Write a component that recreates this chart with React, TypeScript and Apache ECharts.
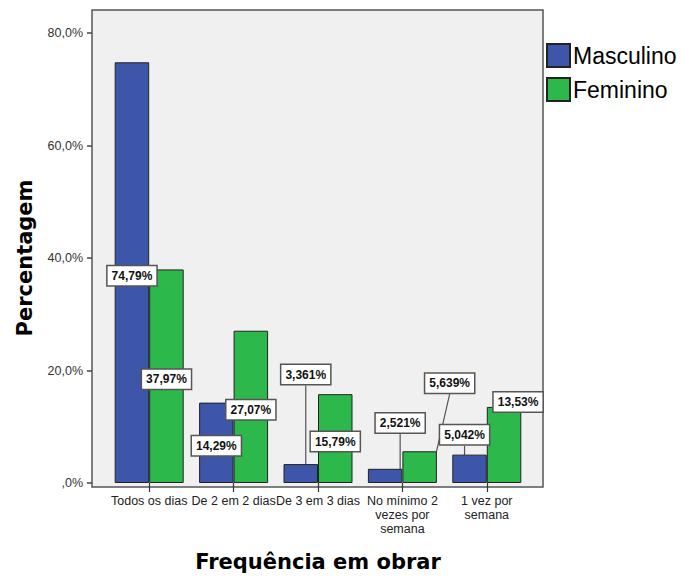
import React, { useEffect, useRef } from "react";
import * as echarts from "echarts";

const categories = [
  "Todos os dias",
  "De 2 em 2 dias",
  "De 3 em 3 dias",
  "No mínimo 2\nvezes por\nsemana",
  "1 vez por\nsemana",
];
const masculino = [74.79, 14.29, 3.361, 2.521, 5.042];
const feminino = [37.97, 27.07, 15.79, 5.639, 13.53];
const seriesNames = ["Masculino", "Feminino"];

// label displacement (px) from the bar centre, like the SPSS callouts
const labelOffsets = [
  [[0, 3], [0, 3], [5, -99], [15, -53], [-5, -34]],
  [[0, 3], [0, 3], [0, 3], [30, -84], [14, -43]],
];

const fmtPct = (v: number) => v.toPrecision(4).replace(".", ",") + "%";
const fmtTick = (v: number) => (v === 0 ? ",0%" : v.toFixed(1).replace(".", ",") + "%");

const FONT = "'Liberation Sans', Arial, sans-serif";

export default function App() {
  const ref = useRef<HTMLDivElement>(null);
  useEffect(() => {
    if (!ref.current) return;
    const chart = echarts.init(ref.current, null, { renderer: "svg" });
    const labelCfg = {
      show: true,
      position: "inside",
      formatter: (p: any) => fmtPct(p.value),
      fontFamily: FONT,
      fontSize: 12,
      fontWeight: "bold",
      color: "#111",
      backgroundColor: "#ffffff",
      borderColor: "#555",
      borderWidth: 1.5,
      padding: [4, 4, 3, 4],
    };
    chart.setOption({
      animation: false,
      textStyle: { fontFamily: FONT },
      graphic: [
        {
          type: "rect",
          z: -10,
          silent: true,
          shape: { x: 92, y: 10, width: 451, height: 477 },
          style: { fill: "#f0f0f0", stroke: "#555", lineWidth: 1.5 },
        },
      ],
      legend: {
        orient: "vertical",
        left: 546,
        top: 43,
        padding: 0,
        itemWidth: 23,
        itemHeight: 23,
        itemGap: 9,
        icon: "rect",
        textStyle: { fontFamily: FONT, fontSize: 23, color: "#000", padding: [0, 0, 0, -2] },
        data: seriesNames,
      },
      grid: { left: 107, right: 154, top: 33, bottom: 90 },
      xAxis: {
        type: "category",
        data: categories,
        name: "Frequência em obrar",
        nameLocation: "middle",
        nameGap: 68,
        nameTextStyle: { fontFamily: "'DejaVu Sans', sans-serif", fontWeight: "bold", fontSize: 21, color: "#000" },
        axisLine: { show: false },
        axisTick: { show: true, alignWithLabel: true, length: 9, lineStyle: { color: "#333", width: 1.2 } },
        axisLabel: { interval: 0, margin: 11, fontSize: 12.5, lineHeight: 14, color: "#222", fontFamily: FONT },
      },
      yAxis: {
        type: "value",
        min: 0,
        max: 80,
        interval: 20,
        offset: 15,
        name: "Percentagem",
        nameLocation: "middle",
        nameRotate: 90,
        nameGap: 57,
        nameTextStyle: { fontFamily: "'DejaVu Sans', sans-serif", fontWeight: "bold", fontSize: 21, color: "#000" },
        axisLine: { show: false },
        axisTick: { show: true, length: 5, lineStyle: { color: "#444", width: 1.5 } },
        splitLine: { show: false },
        axisLabel: { formatter: fmtTick, margin: 9, fontSize: 12.5, color: "#333", fontFamily: FONT },
      },
      series: [masculino, feminino].map((data, si) => ({
        type: "bar",
        name: seriesNames[si],
        data,
        barWidth: 34.5,
        barGap: "0%",
        itemStyle: {
          color: si === 0 ? "#3d56a9" : "#2db84b",
          borderColor: "#222",
          borderWidth: 1,
        },
        label: labelCfg,
        labelLine: { show: true, lineStyle: { color: "#555", width: 1.2 } },
        labelLayout: (p: any) => {
          const o = labelOffsets[si][p.dataIndex];
          return { dx: o[0], dy: o[1] };
        },
      })),
    });
    return () => chart.dispose();
  }, []);
  return (
    <div
      ref={ref}
      style={{ position: "fixed", left: 0, top: 0, width: 683, height: 577, background: "#fff" }}
    />
  );
}
